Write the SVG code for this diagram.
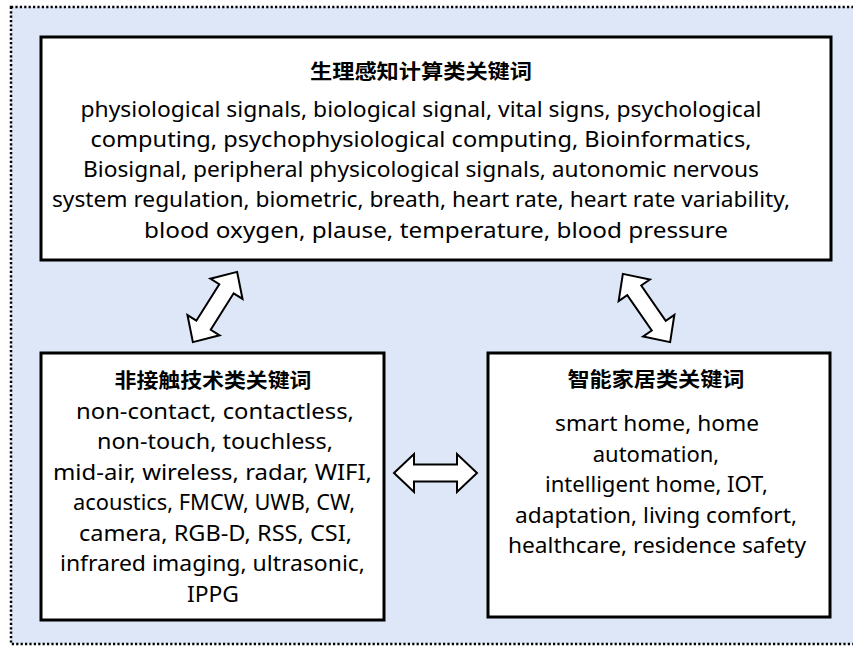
<svg xmlns="http://www.w3.org/2000/svg" width="853" height="648" viewBox="0 0 853 648">
  <style>
    .panel { fill: #ffffff; stroke: #000000; stroke-width: 3; }
    .title { font-family: "Noto Sans CJK SC", "Noto Sans", sans-serif; font-size: 20px; font-weight: bold; fill: #000000; text-anchor: middle; }
    .body { font-family: "Noto Sans", "Open Sans", sans-serif; font-size: 22px; fill: #000000; text-anchor: middle; }
    .arrow { fill: #ffffff; stroke: #000000; stroke-width: 2; stroke-linejoin: miter; }
  </style>
  <defs>
    <!-- double-headed block arrow centred on the origin, pointing along x -->
    <polygon id="dbl-arrow" points="-41.5,0 -21.5,-19 -21.5,-8.5 21.5,-8.5 21.5,-19 41.5,0 21.5,19 21.5,8.5 -21.5,8.5 -21.5,19"/>
  </defs>

  <!-- background panel with dotted outline -->
  <rect x="11" y="7" width="860" height="637" fill="#dde7f7" stroke="#000000" stroke-width="2.5" stroke-dasharray="2.2 2.2"/>

  <g id="node-physio">
    <rect class="panel" x="41" y="37" width="790" height="223"/>
    <text class="title" x="421" y="79" textLength="222" lengthAdjust="spacingAndGlyphs">生理感知计算类关键词</text>
    <text class="body" x="421" y="117" textLength="681" lengthAdjust="spacingAndGlyphs">physiological signals, biological signal, vital signs, psychological</text>
    <text class="body" x="421" y="147" textLength="661" lengthAdjust="spacingAndGlyphs">computing, psychophysiological computing, Bioinformatics,</text>
    <text class="body" x="421" y="177" textLength="676" lengthAdjust="spacingAndGlyphs">Biosignal, peripheral physicological signals, autonomic nervous</text>
    <text class="body" x="421" y="207" textLength="738" lengthAdjust="spacingAndGlyphs">system regulation, biometric, breath, heart rate, heart rate variability,</text>
    <text class="body" x="436" y="238" textLength="584" lengthAdjust="spacingAndGlyphs">blood oxygen, plause, temperature, blood pressure</text>
  </g>

  <g id="node-contactless">
    <rect class="panel" x="41" y="353" width="343" height="267"/>
    <text class="title" x="213" y="388" textLength="197" lengthAdjust="spacingAndGlyphs">非接触技术类关键词</text>
    <text class="body" x="215" y="419" textLength="278" lengthAdjust="spacingAndGlyphs">non-contact, contactless,</text>
    <text class="body" x="215" y="449" textLength="236" lengthAdjust="spacingAndGlyphs">non-touch, touchless,</text>
    <text class="body" x="212.5" y="480" textLength="319" lengthAdjust="spacingAndGlyphs">mid-air, wireless, radar, WIFI,</text>
    <text class="body" x="214" y="510" textLength="282" lengthAdjust="spacingAndGlyphs">acoustics, FMCW, UWB, CW,</text>
    <text class="body" x="215.5" y="541" textLength="273" lengthAdjust="spacingAndGlyphs">camera, RGB-D, RSS, CSI,</text>
    <text class="body" x="212.5" y="571" textLength="305" lengthAdjust="spacingAndGlyphs">infrared imaging, ultrasonic,</text>
    <text class="body" x="213" y="602" textLength="52" lengthAdjust="spacingAndGlyphs">IPPG</text>
  </g>

  <g id="node-smarthome">
    <rect class="panel" x="488" y="353" width="342" height="264"/>
    <text class="title" x="656" y="387" textLength="177" lengthAdjust="spacingAndGlyphs">智能家居类关键词</text>
    <text class="body" x="657" y="431" textLength="204" lengthAdjust="spacingAndGlyphs">smart home, home</text>
    <text class="body" x="656" y="462">automation,</text>
    <text class="body" x="656.5" y="492" textLength="223" lengthAdjust="spacingAndGlyphs">intelligent home, IOT,</text>
    <text class="body" x="656" y="523" textLength="282" lengthAdjust="spacingAndGlyphs">adaptation, living comfort,</text>
    <text class="body" x="657" y="553" textLength="298" lengthAdjust="spacingAndGlyphs">healthcare, residence safety</text>
  </g>

  <g id="connectors">
    <use href="#dbl-arrow" class="arrow" transform="translate(215 307) rotate(-57.8)"/>
    <use href="#dbl-arrow" class="arrow" transform="translate(646.5 308) rotate(55.3)"/>
    <use href="#dbl-arrow" class="arrow" transform="translate(435.5 473)"/>
  </g>
</svg>
